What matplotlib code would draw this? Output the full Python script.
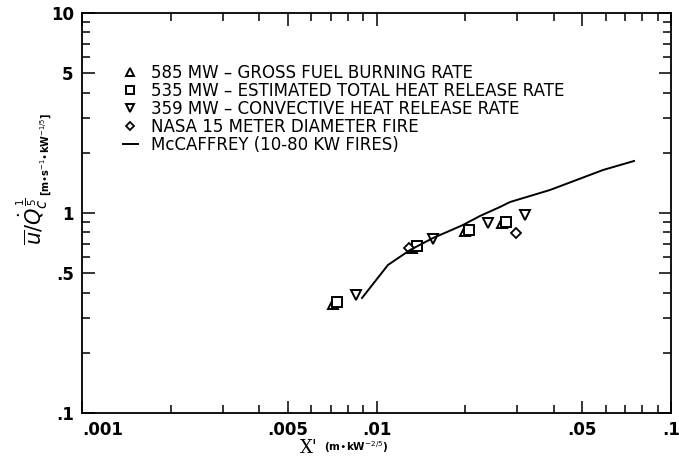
import matplotlib.pyplot as plt
from matplotlib.ticker import FixedLocator, FixedFormatter, LogLocator, NullFormatter
import numpy as np

# 585 MW gross fuel burning rate
x_gross = [0.00711, 0.0132, 0.0199, 0.0266]
y_gross = [0.350, 0.672, 0.810, 0.888]
# 535 MW estimated total heat release rate
x_total = [0.00735, 0.0137, 0.0206, 0.0275]
y_total = [0.357, 0.685, 0.825, 0.903]
# 359 MW convective heat release rate
x_conv = [0.00855, 0.0156, 0.0240, 0.0320]
y_conv = [0.388, 0.742, 0.893, 0.978]
# NASA 15 m pool fire
x_nasa = [0.0129, 0.0298]
y_nasa = [0.665, 0.794]
# McCaffrey correlation (10-80 kW fires)
x_mc = [0.00893, 0.01094, 0.0130, 0.01556, 0.01736, 0.01966, 0.02245,
        0.02627, 0.02841, 0.0388, 0.0588, 0.0749]
y_mc = [0.376, 0.550, 0.653, 0.750, 0.804, 0.871, 0.966,
        1.072, 1.135, 1.303, 1.641, 1.820]

x_ticks = [0.001, 0.005, 0.01, 0.05, 0.1]
x_ticklabels = ['.001', '.005', '.01', '.05', '.1']
y_ticks = [0.1, 0.5, 1, 5, 10]
y_ticklabels = ['.1', '.5', '1', '5', '10']

plt.rcParams['font.family'] = ['DejaVu Sans']

fig = plt.figure(figsize=(6.79, 4.61), dpi=100)
ax = fig.add_axes([0.1208, 0.1041, 0.8674, 0.8677])
ax.set_xscale('log')
ax.set_yscale('log')
ax.set_xlim(0.001, 0.1)
ax.set_ylim(0.1, 10)

mk = dict(linestyle='none', markerfacecolor='white', markeredgecolor='black',
          markeredgewidth=1.4, markersize=6.5)
ax.plot(x_gross, y_gross, marker='^', label='585 MW \u2013 GROSS FUEL BURNING RATE', **mk)
ax.plot(x_total, y_total, marker='s', label='535 MW \u2013 ESTIMATED TOTAL HEAT RELEASE RATE', **mk)
ax.plot(x_conv, y_conv, marker='v', label='359 MW \u2013 CONVECTIVE HEAT RELEASE RATE', **mk)
ax.plot(x_nasa, y_nasa, marker='D', label='NASA 15 METER DIAMETER FIRE',
        linestyle='none', markerfacecolor='white', markeredgecolor='black',
        markeredgewidth=1.3, markersize=4.8)
ax.plot(x_mc, y_mc, color='black', linewidth=1.4, label='McCAFFREY (10-80 KW FIRES)')

leg = ax.legend(loc='upper left', bbox_to_anchor=(0.069, 0.872), frameon=False,
                fontsize=12, handlelength=0.9, handletextpad=0.8,
                labelspacing=0.0, borderpad=0, borderaxespad=0,
                markerscale=0.8)

ax.xaxis.set_major_locator(FixedLocator(x_ticks))
ax.xaxis.set_major_formatter(FixedFormatter(x_ticklabels))
ax.yaxis.set_major_locator(FixedLocator(y_ticks))
ax.yaxis.set_major_formatter(FixedFormatter(y_ticklabels))
ax.xaxis.set_minor_locator(LogLocator(base=10, subs=np.arange(2, 10)))
ax.yaxis.set_minor_locator(LogLocator(base=10, subs=np.arange(2, 10)))
ax.xaxis.set_minor_formatter(NullFormatter())
ax.yaxis.set_minor_formatter(NullFormatter())
ax.tick_params(which='both', direction='in', top=True, right=True, width=1.1)
ax.tick_params(which='major', length=9, labelsize=12, pad=6)
ax.tick_params(which='minor', length=6)
for lab in ax.get_xticklabels() + ax.get_yticklabels():
    lab.set_fontweight('bold')
# the first x label sits to the right of its tick, clear of the ".1" on y
ax.get_xticklabels()[0].set_horizontalalignment('left')
for sp in ax.spines.values():
    sp.set_linewidth(1.3)

fig.text(0.048, 0.52, r'$\overline{u}/\dot{Q}_c^{\,\frac{1}{5}}$', rotation=90,
         fontsize=15, ha='center', va='center', family='DejaVu Serif')
fig.text(0.068, 0.665, r'[m$\bullet$s$^{-1}$$\bullet$kW$^{-1/5}$]', rotation=90,
         fontsize=7, ha='center', va='center', fontweight='bold')
fig.text(0.455, 0.028, "X'", fontsize=13, ha='center', va='center',
         family='DejaVu Serif')
fig.text(0.525, 0.030, r'(m$\bullet$kW$^{-2/5}$)', fontsize=7.5,
         ha='center', va='center', fontweight='bold')

fig.savefig('out.png', dpi=100)
